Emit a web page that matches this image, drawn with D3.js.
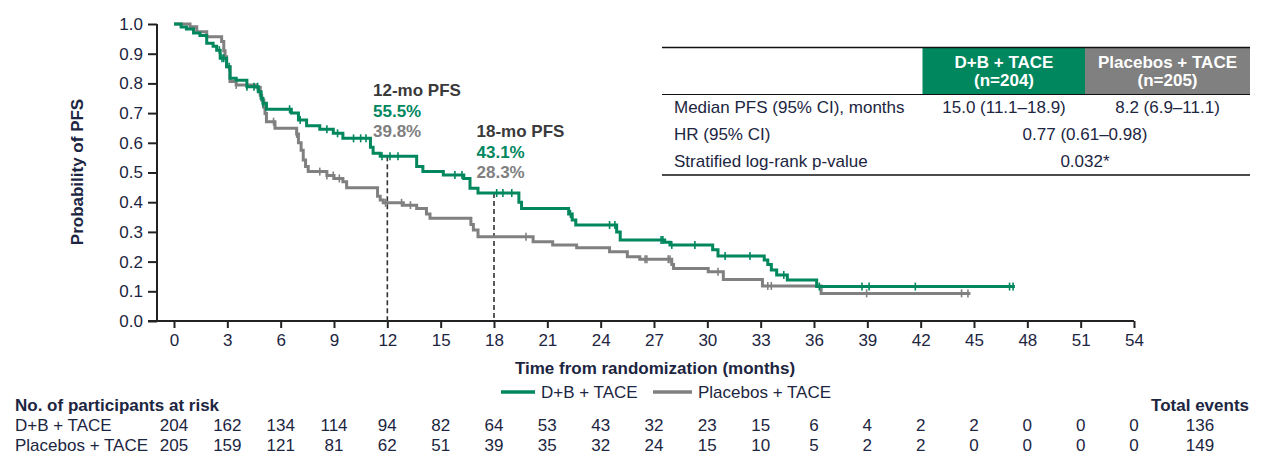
<!DOCTYPE html>
<html><head><meta charset="utf-8">
<script src="https://cdn.jsdelivr.net/npm/d3@7"></script>
<style>
body{margin:0;background:#fff;}
svg{display:block;font-family:"Liberation Sans",Arial,sans-serif;}
</style></head>
<body>
<svg id="chart" width="1268" height="469"></svg>
<script>
// ---------- DATA ----------
const groups = ["D+B + TACE", "Placebos + TACE"];
const groupN = [204, 205];
// Kaplan-Meier steps: time of drop (months) and survival after drop
const dbTimes = [0,0.4,0.7,1.1,1.46,1.84,2.2,2.4,2.6,2.96,3.15,3.5,4.1,4.74,4.9,5.0,5.2,6.6,7.0,7.46,8.2,8.96,9.5,11.05,11.2,11.6,13.65,14.0,15.15,16.3,16.65,17.1,19.4,19.55,22.2,22.4,22.6,24.9,25.1,27.6,27.9,30.3,30.6,33.2,33.4,33.6,33.9,34.5,36.15,47.3];
const dbSurv  = [1.0,0.99,0.983,0.97,0.961,0.935,0.925,0.912,0.885,0.856,0.817,0.811,0.789,0.772,0.75,0.733,0.713,0.70,0.677,0.657,0.646,0.632,0.615,0.585,0.565,0.555,0.52,0.503,0.492,0.48,0.447,0.431,0.40,0.379,0.36,0.34,0.323,0.30,0.273,0.265,0.256,0.24,0.219,0.205,0.19,0.172,0.155,0.138,0.116,0.116];
const pbTimes = [0,0.9,1.28,1.84,2.68,2.8,2.87,2.96,3.15,3.5,4.65,4.85,4.93,5.05,5.12,5.2,5.68,6.9,7.0,7.15,7.27,7.4,7.55,8.6,9.0,9.5,9.71,11.45,11.6,11.77,12.9,13.65,14.2,14.4,16.7,16.84,17.1,20.2,21.3,22.65,24.5,25.5,26.2,28.0,28.1,30.05,30.9,33.1,36.4,44.8];
const pbSurv  = [1.0,0.991,0.974,0.957,0.941,0.91,0.89,0.856,0.806,0.795,0.787,0.76,0.744,0.72,0.699,0.671,0.649,0.63,0.60,0.575,0.542,0.52,0.503,0.49,0.48,0.469,0.449,0.42,0.407,0.398,0.39,0.379,0.36,0.346,0.325,0.306,0.284,0.267,0.256,0.247,0.233,0.216,0.208,0.19,0.177,0.166,0.14,0.118,0.093,0.093];
const dbCensor = [2.55,2.7,2.8,3.1,4.1,4.5,4.7,5.0,6.5,7.1,8.6,9.2,10.1,10.5,10.8,11.7,12.15,12.6,15.8,16.2,18.15,18.5,19.0,22.3,24.5,24.8,27.4,27.5,28.0,29.3,31.0,32.4,34.3,36.3,38.7,39.1,41.7,47.0,47.2];
const pbCensor = [3.5,4.1,5.1,5.6,6.9,8.2,8.6,8.96,9.3,11.9,12.8,13.3,19.8,26.5,26.6,27.8,27.9,30.6,33.4,33.6,38.96,44.3,44.66];

const xTicks = [0,3,6,9,12,15,18,21,24,27,30,33,36,39,42,45,48,51,54];
const yTicks = [0,0.1,0.2,0.3,0.4,0.5,0.6,0.7,0.8,0.9,1.0];
const dbAtRisk = [204,162,134,114,94,82,64,53,43,32,23,15,6,4,2,2,0,0,0];
const pbAtRisk = [205,159,121,81,62,51,39,35,32,24,15,10,5,2,2,0,0,0,0];
const totalEvents = [136, 149];

const landmarkMonths = [12, 18];
const landmarkLabels = ["12-mo PFS", "18-mo PFS"];
const landmarkDB = ["55.5%", "43.1%"];
const landmarkPB = ["39.8%", "28.3%"];
const landmarkDBVal = [0.555, 0.431];

const tableRowLabels = ["Median PFS (95% CI), months", "HR (95% CI)", "Stratified log-rank p-value"];
const tableDB = ["15.0 (11.1\u201318.9)"];
const tablePB = ["8.2 (6.9\u201311.1)"];
const tableShared = ["0.77 (0.61\u20130.98)", "0.032*"];

// ---------- STYLE ----------
const GREEN = "#00875e", GREY = "#808080", NAVY = "#1c2541", DARK = "#3a3a3a";
const FS = 17;

const svg = d3.select("#chart");
const x = d3.scaleLinear().domain([0,54]).range([174,1134]);
const y = d3.scaleLinear().domain([0,1]).range([321,24]);
const yAxisX = 157;

// axes
const gx = svg.append("g").attr("transform","translate(0,321)")
  .call(d3.axisBottom(x).tickValues(xTicks).tickSize(7).tickPadding(6).tickSizeOuter(0));
gx.select(".domain").remove();
gx.selectAll(".tick line").attr("stroke","#222").attr("stroke-width",2);
gx.selectAll("text").attr("font-size",FS).attr("fill",NAVY).attr("font-family","Liberation Sans, Arial");

const gy = svg.append("g").attr("transform",`translate(${yAxisX},0)`)
  .call(d3.axisLeft(y).tickValues(yTicks).tickFormat(d3.format(".1f")).tickSize(9).tickPadding(5).tickSizeOuter(0));
gy.select(".domain").remove();
gy.selectAll(".tick line").attr("stroke","#222").attr("stroke-width",2);
gy.selectAll("text").attr("font-size",FS).attr("fill",NAVY).attr("font-family","Liberation Sans, Arial");

svg.append("line").attr("x1",yAxisX).attr("x2",yAxisX).attr("y1",y(1)).attr("y2",y(0))
  .attr("stroke","#222").attr("stroke-width",2);
svg.append("line").attr("x1",yAxisX-9).attr("x2",x(54)).attr("y1",y(0)).attr("y2",y(0))
  .attr("stroke","#222").attr("stroke-width",2);

// axis titles
svg.append("text").attr("transform","translate(83,172) rotate(-90)").attr("text-anchor","middle")
  .attr("font-size",FS).attr("font-weight","bold").attr("fill",NAVY).text("Probability of PFS");
svg.append("text").attr("x",655).attr("y",374).attr("text-anchor","middle")
  .attr("font-size",FS).attr("font-weight","bold").attr("fill",NAVY).text("Time from randomization (months)");

// landmark dashed lines
landmarkMonths.forEach((m,i)=>{
  svg.append("line").attr("x1",x(m)).attr("x2",x(m)).attr("y1",y(landmarkDBVal[i])).attr("y2",y(0))
    .attr("stroke","#333").attr("stroke-width",1.6).attr("stroke-dasharray","5,3");
});

// curves
const line = d3.line().x(d=>x(d[0])).y(d=>y(d[1])).curve(d3.curveStepAfter);
function stepVal(times, surv, t){ let v = surv[0]; for(let i=0;i<times.length;i++){ if(times[i]<=t) v=surv[i]; } return v; }
const series = [
  {t:pbTimes, s:pbSurv, c:pbCensor, col:GREY},
  {t:dbTimes, s:dbSurv, c:dbCensor, col:GREEN}
];
series.forEach(sr=>{
  const pts = sr.t.map((t,i)=>[t,sr.s[i]]);
  svg.append("path").datum(pts).attr("d",line).attr("fill","none")
    .attr("stroke",sr.col).attr("stroke-width",3);
  svg.append("g").selectAll("line").data(sr.c).join("line")
    .attr("x1",d=>x(d)).attr("x2",d=>x(d))
    .attr("y1",d=>y(stepVal(sr.t,sr.s,d))-4).attr("y2",d=>y(stepVal(sr.t,sr.s,d))+4)
    .attr("stroke",sr.col).attr("stroke-width",1.6);
});

// landmark annotations
const annX = [373, 476.5], annY = [96, 137];
landmarkMonths.forEach((m,i)=>{
  const g = svg.append("g").attr("font-size",FS).attr("font-weight","bold");
  g.append("text").attr("x",annX[i]).attr("y",annY[i]).attr("fill",DARK).text(landmarkLabels[i]);
  g.append("text").attr("x",annX[i]).attr("y",annY[i]+20.5).attr("fill",GREEN).text(landmarkDB[i]);
  g.append("text").attr("x",annX[i]).attr("y",annY[i]+41).attr("fill",GREY).text(landmarkPB[i]);
});

// summary table
const tb = svg.append("g").attr("font-size",FS).attr("fill",NAVY);
svg.append("rect").attr("x",922.5).attr("y",47.5).attr("width",162.5).attr("height",47).attr("fill",GREEN);
svg.append("rect").attr("x",1085).attr("y",47.5).attr("width",165).attr("height",47).attr("fill",GREY);
svg.append("line").attr("x1",662).attr("x2",1250).attr("y1",47.5).attr("y2",47.5).attr("stroke","#111").attr("stroke-width",1.6);
svg.append("line").attr("x1",662).attr("x2",1250).attr("y1",94.5).attr("y2",94.5).attr("stroke","#111").attr("stroke-width",1);
svg.append("line").attr("x1",662).attr("x2",1250).attr("y1",175).attr("y2",175).attr("stroke","#111").attr("stroke-width",1.6);
const hdrX = [1004, 1167.5];
groups.forEach((gname,i)=>{
  svg.append("text").attr("x",hdrX[i]).attr("y",67.5).attr("text-anchor","middle").attr("font-size",FS)
    .attr("font-weight","bold").attr("fill","#fff").text(gname);
  svg.append("text").attr("x",hdrX[i]).attr("y",86).attr("text-anchor","middle").attr("font-size",FS)
    .attr("font-weight","bold").attr("fill","#fff").text(`(n=${groupN[i]})`);
});
const rowY = [113, 140, 167];
tableRowLabels.forEach((r,i)=>{
  tb.append("text").attr("x",674).attr("y",rowY[i]).text(r);
});
tb.append("text").attr("x",hdrX[0]).attr("y",rowY[0]).attr("text-anchor","middle").text(tableDB[0]);
tb.append("text").attr("x",hdrX[1]).attr("y",rowY[0]).attr("text-anchor","middle").text(tablePB[0]);
tableShared.forEach((v,i)=>{
  tb.append("text").attr("x",1085).attr("y",rowY[i+1]).attr("text-anchor","middle").text(v);
});

// legend
const legItems = [{x1:501,x2:535,tx:541,col:GREEN},{x1:653,x2:692,tx:698,col:GREY}];
legItems.forEach((l,i)=>{
  svg.append("line").attr("x1",l.x1).attr("x2",l.x2).attr("y1",392).attr("y2",392).attr("stroke",l.col).attr("stroke-width",3.5);
  svg.append("text").attr("x",l.tx).attr("y",398).attr("font-size",FS).attr("fill",NAVY).text(groups[i]);
});

// at-risk table
const ar = svg.append("g").attr("font-size",FS).attr("fill",NAVY);
ar.append("text").attr("x",15).attr("y",411).attr("font-weight","bold").text("No. of participants at risk");
ar.append("text").attr("x",1249).attr("y",411).attr("font-weight","bold").attr("text-anchor","end").text("Total events");
const arRows = [dbAtRisk, pbAtRisk], arY = [431, 451];
arRows.forEach((row,ri)=>{
  ar.append("text").attr("x",15).attr("y",arY[ri]).text(groups[ri]);
  ar.append("g").selectAll("text").data(row).join("text")
    .attr("x",(d,i)=>x(xTicks[i])).attr("y",arY[ri]).attr("text-anchor","middle").text(d=>d);
  ar.append("text").attr("x",1200).attr("y",arY[ri]).attr("text-anchor","middle").text(totalEvents[ri]);
});
</script>
</body></html>
